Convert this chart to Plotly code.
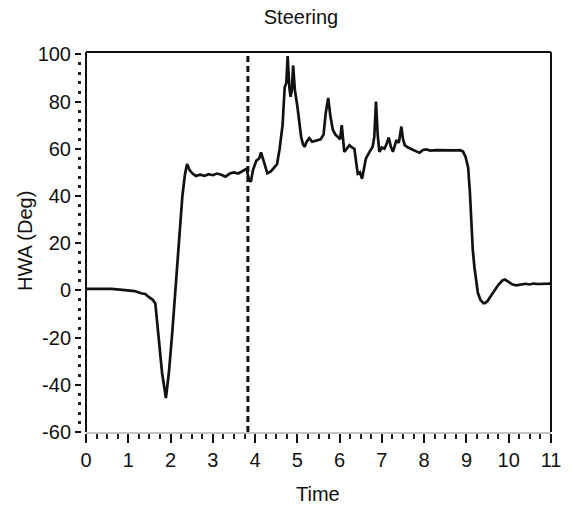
import plotly.graph_objects as go

# Steering wheel angle trace over time
time_s = [
    0.00, 0.20, 0.40, 0.60, 0.80, 1.00, 1.15, 1.30, 1.40, 1.50, 1.58, 1.64,
    1.72, 1.80, 1.89, 1.96, 2.04, 2.10, 2.16, 2.22, 2.28, 2.34, 2.39, 2.45,
    2.52, 2.60, 2.70, 2.80, 2.90, 3.00, 3.10, 3.20, 3.30, 3.40, 3.50, 3.60,
    3.70, 3.80, 3.85, 3.90, 3.95, 4.03, 4.10, 4.14, 4.20, 4.29, 4.38, 4.45,
    4.52, 4.58, 4.65, 4.70, 4.74, 4.77, 4.81, 4.84, 4.87, 4.90, 4.94, 5.00,
    5.05, 5.09, 5.13, 5.17, 5.22, 5.28, 5.35, 5.45, 5.55, 5.62, 5.67, 5.73,
    5.78, 5.84, 5.90, 5.96, 6.01, 6.05, 6.08, 6.11, 6.17, 6.23, 6.30, 6.35,
    6.40, 6.43, 6.48, 6.53, 6.58, 6.62, 6.70, 6.78, 6.82, 6.86, 6.90, 6.94,
    7.00, 7.06, 7.11, 7.16, 7.21, 7.26, 7.30, 7.34, 7.40, 7.46, 7.50, 7.54,
    7.62, 7.73, 7.80, 7.89, 7.97, 8.05, 8.15, 8.30, 8.45, 8.60, 8.75, 8.85,
    8.92, 8.98, 9.04, 9.08, 9.11, 9.15, 9.19, 9.23, 9.27, 9.33, 9.40, 9.44,
    9.50, 9.58, 9.67, 9.76, 9.85, 9.91, 9.98, 10.08, 10.18, 10.30, 10.40, 10.50,
    10.58, 10.70, 10.85, 11.00,
]
hwa_deg = [
    0.6, 0.7, 0.5, 0.6, 0.3, 0.0, -0.3, -1.2, -1.5, -3.0, -4.0, -5.5,
    -20.0, -35.0, -45.6, -35.0, -18.0, -4.0, 11.0, 27.0, 40.0, 49.0, 53.5, 51.0,
    49.5, 48.5, 49.0, 48.5, 49.2, 48.8, 49.5, 49.0, 48.2, 49.5, 50.0, 49.5,
    50.5, 51.5, 47.0, 46.0, 51.0, 55.0, 56.0, 58.5, 55.0, 49.6, 50.5, 52.0,
    53.5, 60.0, 70.0, 86.0, 88.0, 99.3, 86.0, 82.0, 85.0, 95.3, 85.0, 78.0,
    70.0, 65.0, 62.0, 60.8, 63.0, 64.5, 63.0, 63.5, 64.0, 66.0, 75.0, 81.5,
    74.0, 68.0, 66.0, 65.0, 64.0, 70.0, 62.0, 58.7, 60.0, 61.5, 60.5, 60.0,
    53.0, 49.4, 50.0, 47.3, 52.0, 55.8, 58.5, 60.8, 65.0, 80.0, 66.0, 58.7,
    60.5, 60.0, 62.0, 64.8, 61.0, 58.7, 61.0, 63.7, 62.5, 69.4, 64.0, 61.5,
    60.5, 59.4, 59.0, 58.3, 59.5, 59.7, 59.2, 59.4, 59.3, 59.5, 59.3, 59.4,
    58.8, 56.5, 52.0, 42.0, 28.0, 17.0, 9.6, 3.0, -1.1, -4.0, -5.4, -5.4,
    -4.5, -2.3, 0.3, 2.5, 4.2, 4.6, 3.8, 2.6, 2.1, 2.6, 2.8, 2.5,
    2.9, 2.7, 2.8, 2.9,
]

event_time = [3.83]
x_ticks = list(range(0, 12))
y_ticks = [-60, -40, -20, 0, 20, 40, 60, 80, 100]
y_minor = [v for v in range(-60, 101, 4) if v % 20 != 0]

FONT = "Liberation Sans, Arial, sans-serif"
INK = "#111111"

fig = go.Figure()
fig.add_trace(go.Scatter(
    x=time_s, y=hwa_deg, mode="lines",
    line=dict(color=INK, width=2.7),
    showlegend=False, hoverinfo="x+y",
))
# empty trace so the overlay axis carrying the minor ticks is drawn
fig.add_trace(go.Scatter(
    x=[], y=[], yaxis="y2", mode="lines",
    showlegend=False, hoverinfo="skip",
))

W, H = 572, 513
ml, mr, mt, mb = 81, 21, 52, 81
plot_w = W - ml - mr
plot_h = H - mt - mb
x_start = (86 - ml) / plot_w

fig.update_layout(
    width=W, height=H,
    margin=dict(l=ml, r=mr, t=mt, b=mb, pad=0),
    paper_bgcolor="white", plot_bgcolor="white",
    title=dict(text="Steering", x=301 / W, xanchor="center",
               y=1 - 17 / H, yanchor="middle",
               font=dict(family=FONT, size=20, color=INK)),
    xaxis=dict(
        domain=[x_start, 1], range=[0, 11],
        tickvals=x_ticks, ticktext=[str(v) for v in x_ticks],
        ticks="outside", ticklen=9, tickwidth=2, tickcolor=INK,
        minor=dict(dtick=0.25, ticks="outside", ticklen=5, tickwidth=2,
                   tickcolor="#222222", showgrid=False),
        showline=True, linecolor="#c4c4c4", linewidth=2,
        showgrid=False, zeroline=False,
        tickfont=dict(family=FONT, size=20, color=INK),
    ),
    yaxis=dict(
        range=[-60, 101], anchor="free", position=0,
        tickvals=y_ticks, ticktext=[str(v) for v in y_ticks],
        ticks="outside", ticklen=6, tickwidth=2, tickcolor=INK,
        showline=False, showgrid=False, zeroline=False,
        tickfont=dict(family=FONT, size=20, color=INK),
    ),
    # short dotted minor ticks alongside the main y axis
    yaxis2=dict(
        range=[-60, 101], anchor="free", position=0, overlaying="y",
        side="left",
        tickvals=y_minor, ticks="outside", ticklen=3, tickwidth=3,
        tickcolor="#222222", showticklabels=False,
        showline=False, showgrid=False, zeroline=False,
    ),
    annotations=[
        dict(text="Time", xref="paper", yref="paper",
             x=(318 - ml) / plot_w, y=-(494 - (H - mb)) / plot_h,
             xanchor="center", yanchor="middle", showarrow=False,
             font=dict(family=FONT, size=20, color=INK)),
        dict(text="HWA (Deg)", xref="paper", yref="paper",
             x=-(ml - 25) / plot_w, y=1 - (241 - mt) / plot_h,
             xanchor="center", yanchor="middle", textangle=-90,
             showarrow=False,
             font=dict(family=FONT, size=20, color=INK)),
    ],
)

# Frame: left, top and right edges in black
for x0, y0, x1, y1 in [(x_start, 0, x_start, 1), (x_start, 1, 1, 1), (1, 0, 1, 1)]:
    fig.add_shape(type="line", xref="paper", yref="paper",
                  x0=x0, y0=y0, x1=x1, y1=y1,
                  line=dict(color=INK, width=2))

# Event marker
for t in event_time:
    fig.add_shape(type="line", xref="x", yref="y domain",
                  x0=t, x1=t, y0=0, y1=1,
                  line=dict(color=INK, width=3, dash="6px,4px"))

fig.write_html("out.html")
